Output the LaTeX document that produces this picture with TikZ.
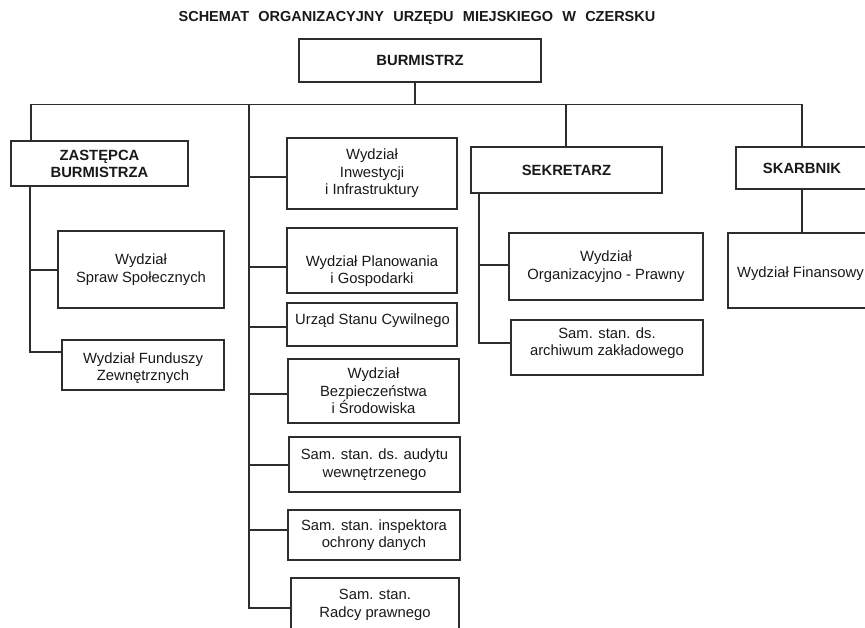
\documentclass[tikz,border=0pt]{standalone}
\usepackage{fontspec}
\setmainfont{Liberation Sans}
\definecolor{linec}{RGB}{45,45,45}
\definecolor{txtc}{RGB}{25,25,25}
\newcommand\normtxt{\fontsize{14.8}{17.6}\selectfont}
\newcommand\boldtxt{\fontsize{14.8}{17}\selectfont\bfseries}
\begin{document}
\begin{tikzpicture}[x=1pt,y=-1pt,
  line/.style={draw=linec, line width=1.2pt},
  box/.style={draw=linec, line width=1.2pt, rectangle, inner sep=0pt, outer sep=0pt, align=center, font=\normtxt, text=txtc},
  bbox/.style={box, font=\boldtxt},
  txt/.style={inner sep=0pt, align=center, font=\normtxt, text=txtc}]
\useasboundingbox (0,0) rectangle (865,628);
\clip (0,0) rectangle (865,628);
\fill[white] (0,0) rectangle (865,628);

% title
\node[txt, font=\fontsize{14.5}{17}\selectfont\bfseries] (title) at (417,18) {\spaceskip=9.2pt\relax SCHEMAT ORGANIZACYJNY URZĘDU MIEJSKIEGO W CZERSKU};

% top
\node[bbox, minimum width=242, minimum height=43] (burm) at (420,60.5) {BURMISTRZ};

% left column
\node[bbox, minimum width=177, minimum height=45] (zast) at (99.5,163.5) {ZASTĘPCA\\BURMISTRZA};
\node[box, minimum width=166, minimum height=77] (spraw) at (141,269.5) {Wydział\\Spraw Społecznych};
\node[box, minimum width=162, minimum height=50] (fund) at (143,365) {};
\node[txt] (fundT) at (143,368) {Wydział Funduszy\\Zewnętrznych};

% middle column
\node[box, minimum width=170, minimum height=71] (inw) at (372,173.5) {Wydział\\Inwestycji\\i Infrastruktury};
\node[box, minimum width=170, minimum height=65] (plan) at (372,260.5) {};
\node[txt] (planT) at (372,271) {Wydział Planowania\\i Gospodarki};
\node[box, minimum width=170, minimum height=43] (usc) at (372,324.5) {};
\node[txt] (uscT) at (372.5,320.5) {Urząd Stanu Cywilnego};
\node[box, minimum width=171, minimum height=64] (bezp) at (373.5,391) {Wydział\\Bezpieczeństwa\\i Środowiska};
\node[box, minimum width=171, minimum height=55] (aud) at (374.5,464.5) {Sam. stan. ds. audytu\\wewnętrzenego};
\node[box, minimum width=172, minimum height=50] (insp) at (374,535) {Sam. stan. inspektora\\ochrony danych};
\node[box, minimum width=168, minimum height=60] (radcy) at (375,608) {};
\node[txt] (radcyT) at (375,605) {Sam. stan.\\Radcy prawnego};

% sekretarz
\node[bbox, minimum width=191, minimum height=46] (sek) at (566.5,170) {SEKRETARZ};
\node[box, minimum width=194, minimum height=67] (org) at (606,266.5) {Wydział\\Organizacyjno - Prawny};
\node[box, minimum width=192, minimum height=55] (arch) at (607,347.5) {};
\node[txt] (archT) at (607,343) {Sam. stan. ds.\\archiwum zakładowego};

% skarbnik
\node[bbox, minimum width=132, minimum height=42] (skarb) at (802,168) {SKARBNIK};
\node[box, minimum width=148, minimum height=75] (fin) at (802,270.5) {};
\node[txt, anchor=west] (finT) at (737,274) {Wydział Finansowy};

% connectors
\coordinate (bL) at (31,104.5);
\coordinate (bM) at (249,104.5);
\coordinate (bB) at (415,104.5);
\coordinate (bS) at (566,104.5);
\coordinate (bR) at (802,104.5);
\draw[line] (bL) -- (bR);
\draw[line] (burm.south -| bB) -- (bB);
\draw[line] (bL) -- (bL |- zast.north);
\draw[line] (bS) -- (bS |- sek.north);
\draw[line] (bR) -- (bR |- skarb.north);
\draw[line] (skarb.south -| bR) -- (fin.north -| bR);

% left branches
\coordinate (zx) at (30,352);
\coordinate (zs) at (30,270);
\draw[line] (zast.south -| zx) -- (zx) -- (fund.west |- zx);
\draw[line] (zs) -- (spraw.west |- zs);

% middle branches
\coordinate (mInw) at (249,177);
\coordinate (mPlan) at (249,267);
\coordinate (mUsc) at (249,327);
\coordinate (mBezp) at (249,394);
\coordinate (mAud) at (249,465);
\coordinate (mInsp) at (249,530);
\coordinate (mRad) at (249,608);
\draw[line] (bM) -- (mRad) -- (radcy.west |- mRad);
\draw[line] (mInw) -- (inw.west |- mInw);
\draw[line] (mPlan) -- (plan.west |- mPlan);
\draw[line] (mUsc) -- (usc.west |- mUsc);
\draw[line] (mBezp) -- (bezp.west |- mBezp);
\draw[line] (mAud) -- (aud.west |- mAud);
\draw[line] (mInsp) -- (insp.west |- mInsp);

% sekretarz branches
\coordinate (sA) at (479,343);
\coordinate (sO) at (479,265);
\draw[line] (sek.south -| sA) -- (sA) -- (arch.west |- sA);
\draw[line] (sO) -- (org.west |- sO);
\end{tikzpicture}
\end{document}
